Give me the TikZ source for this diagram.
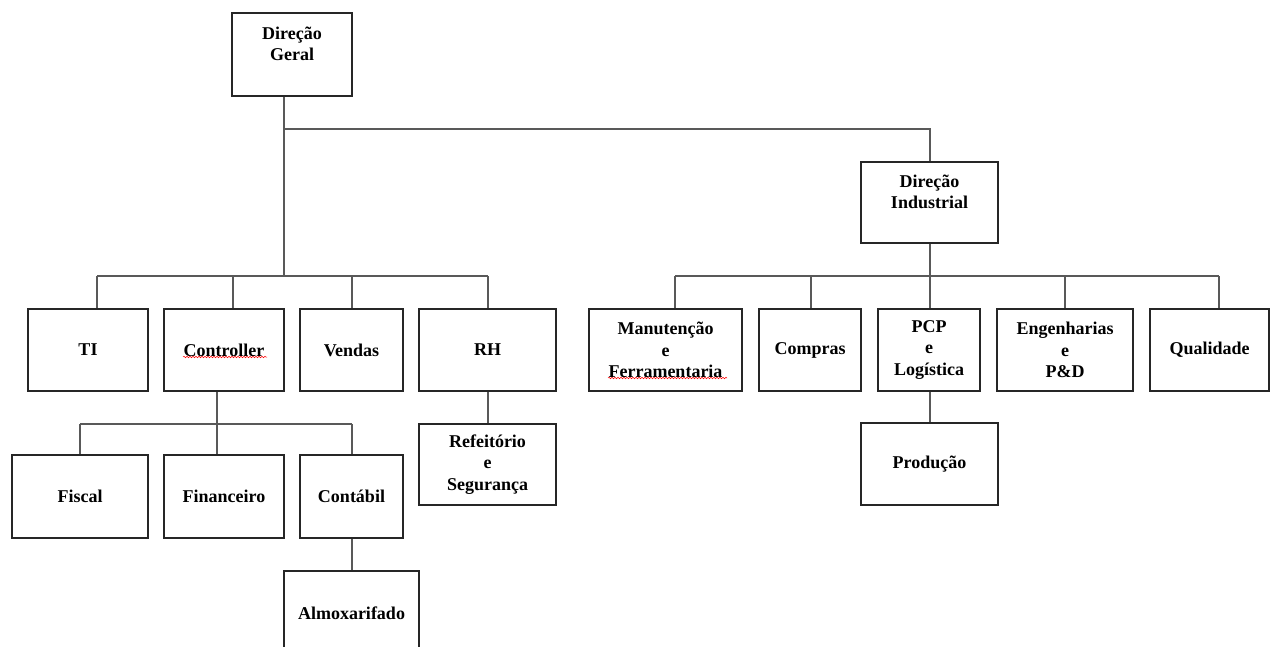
\documentclass[tikz,border=0pt]{standalone}
\usepackage{fontspec}
\setmainfont{Liberation Serif}
\usetikzlibrary{decorations.pathmorphing}
\begin{document}
\begin{tikzpicture}[x=1pt,y=-1pt,
  box/.style={draw=black!85,line width=1.1pt,rectangle,inner sep=0pt,align=center,
    font=\bfseries\fontsize{18}{21.5}\selectfont},
  conn/.style={draw=black!65,line width=1.1pt},
  squig/.style={draw=red,line width=0.5pt,decorate,
    decoration={snake,amplitude=0.8pt,segment length=3pt}}]
\useasboundingbox[fill=white] (0,0) rectangle (1276,646);

% top level
\node[box,minimum width=120pt,minimum height=83pt] (dg) at (292,54.5) {Direção\\Geral\\\phantom{G}};
\node[box,minimum width=137pt,minimum height=81pt] (di) at (929.5,202.5) {Direção\\Industrial\\\phantom{G}};

% second level (left)
\node[box,minimum width=120pt,minimum height=82pt] (ti) at (88,350) {TI};
\node[box,minimum width=120pt,minimum height=82pt] (ctrl) at (224,350) {Controller};
\node[box,minimum width=103pt,minimum height=82pt] (vendas) at (351.5,350) {Vendas};
\node[box,minimum width=137pt,minimum height=82pt] (rh) at (487.5,350) {RH};

% second level (right)
\node[box,minimum width=153pt,minimum height=82pt] (manut) at (665.5,350) {Manutenção\\e\\Ferramentaria};
\node[box,minimum width=102pt,minimum height=82pt] (compras) at (810,350) {Compras};
\node[box,minimum width=102pt,minimum height=82pt] (pcp) at (929,350) {PCP\\e\\Logística};
\node[box,minimum width=136pt,minimum height=82pt] (eng) at (1065,350) {Engenharias\\e\\P\&D};
\node[box,minimum width=119pt,minimum height=82pt] (qual) at (1209.5,350) {Qualidade};

% third level
\node[box,minimum width=136pt,minimum height=83pt] (fiscal) at (80,496.5) {Fiscal};
\node[box,minimum width=120pt,minimum height=83pt] (fin) at (224,496.5) {Financeiro};
\node[box,minimum width=103pt,minimum height=83pt] (cont) at (351.5,496.5) {Contábil};
\node[box,minimum width=137pt,minimum height=81pt] (ref) at (487.5,464.5) {Refeitório\\e\\Segurança};
\node[box,minimum width=137pt,minimum height=82pt] (prod) at (929.5,464) {Produção};

% fourth level
\node[box,minimum width=135pt,minimum height=84pt] (almox) at (351.5,613) {Almoxarifado};

% spell-check marks
\draw[squig] (183,357) -- (267,357);
\draw[squig] (608,378) -- (727,378);

% connectors: top
\coordinate (t1) at (284,129);
\coordinate (t2) at (930,129);
\coordinate (b1) at (284,276);
\draw[conn] (dg.south -| t1) -- (b1);
\draw[conn] (t1) -- (t2) -- (t2 |- di.north);

% bus 1 (Direção Geral)
\coordinate (jti) at (97,276);
\coordinate (jrh) at (488,276);
\draw[conn] (jti) -- (jrh);
\foreach \x/\n in {97/ti,233/ctrl,352/vendas,488/rh}{
  \coordinate (j\n) at (\x,276);
  \draw[conn] (j\n) -- (j\n |- \n.north);
}

% bus 2 (Controller)
\coordinate (c0) at (217,424);
\draw[conn] (ctrl.south -| c0) -- (c0);
\coordinate (cf) at (80,424);
\coordinate (cc) at (352,424);
\draw[conn] (cf) -- (cc);
\foreach \x/\n in {80/fiscal,217/fin,352/cont}{
  \coordinate (k\n) at (\x,424);
  \draw[conn] (k\n) -- (k\n |- \n.north);
}

% Contábil -> Almoxarifado
\coordinate (ca) at (352,540);
\draw[conn] (cont.south -| ca) -- (almox.north -| ca);

% RH -> Refeitório
\coordinate (rr) at (488,400);
\draw[conn] (rh.south -| rr) -- (ref.north -| rr);

% bus 3 (Direção Industrial)
\coordinate (d0) at (930,276);
\draw[conn] (di.south -| d0) -- (d0);
\coordinate (dm) at (675,276);
\coordinate (dq) at (1219,276);
\draw[conn] (dm) -- (dq);
\foreach \x/\n in {675/manut,811/compras,930/pcp,1065/eng,1219/qual}{
  \coordinate (m\n) at (\x,276);
  \draw[conn] (m\n) -- (m\n |- \n.north);
}

% PCP -> Produção
\coordinate (pp) at (930,400);
\draw[conn] (pcp.south -| pp) -- (prod.north -| pp);
\end{tikzpicture}
\end{document}
